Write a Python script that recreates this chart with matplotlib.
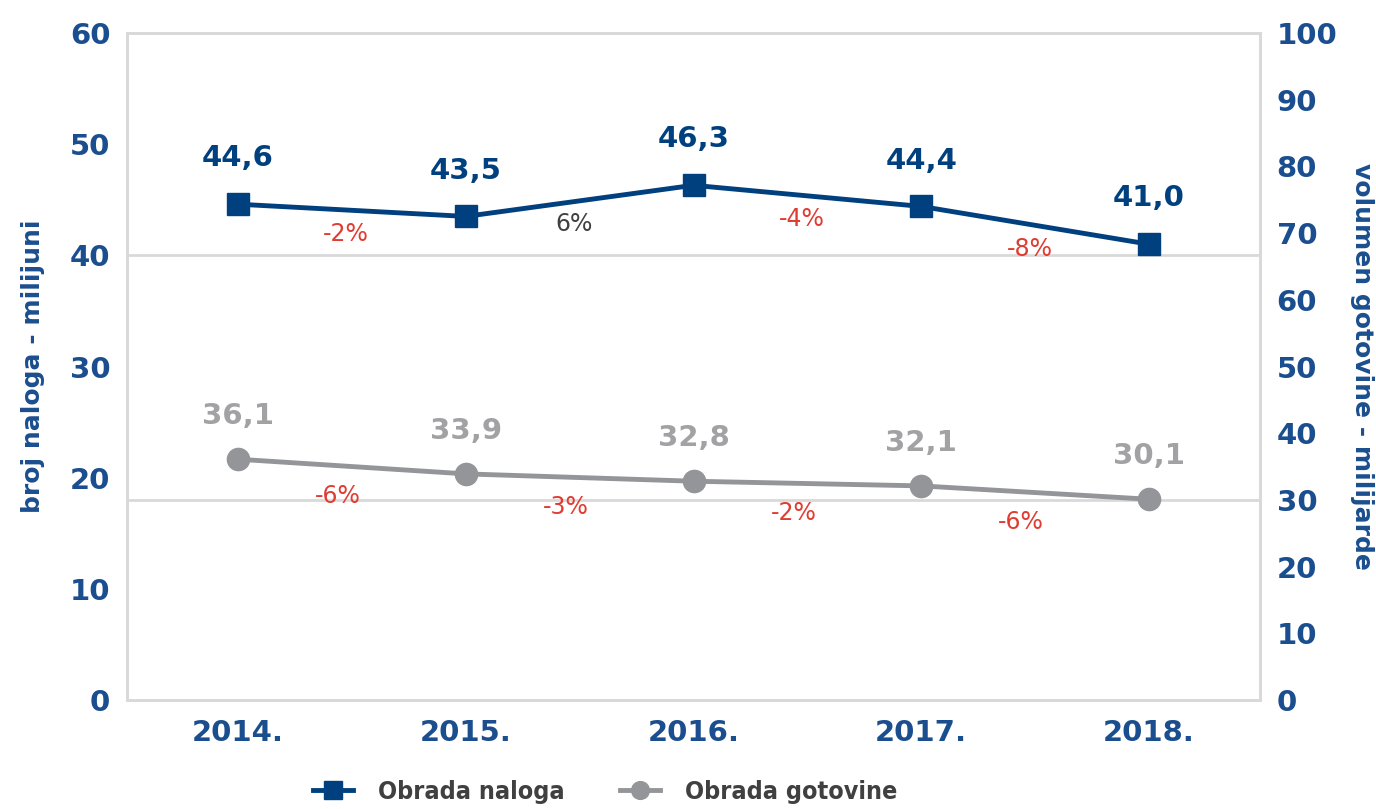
import matplotlib
matplotlib.use("Agg")
import matplotlib.pyplot as plt

years = ["2014.", "2015.", "2016.", "2017.", "2018."]
nalozi = [44.6, 43.5, 46.3, 44.4, 41.0]
gotovina = [36.1, 33.9, 32.8, 32.1, 30.1]
nalozi_lbl = ["44,6", "43,5", "46,3", "44,4", "41,0"]
gotovina_lbl = ["36,1", "33,9", "32,8", "32,1", "30,1"]
nalozi_chg = ["-2%", "6%", "-4%", "-8%"]
gotovina_chg = ["-6%", "-3%", "-2%", "-6%"]

blue = "#00407F"
tick_blue = "#1B4E8E"
grey = "#939598"
grey_txt = "#A2A2A5"
red = "#E03C31"
frame = "#D9D9D9"

main_font = "DejaVu Sans"

fig = plt.figure(figsize=(13.76, 8.09), dpi=100)
ax = fig.add_axes([127/1376, 1-700/809, (1260-127)/1376, (700-33)/809])
ax2 = ax.twinx()

x = list(range(len(years)))
ax.axhline(40, color=frame, lw=2, zorder=0)
ax2.axhline(30, color=frame, lw=2, zorder=0)

l1, = ax.plot(x, nalozi, color=blue, lw=3.5, marker="s", ms=16, zorder=3)
l2, = ax2.plot(x, gotovina, color=grey, lw=3.5, marker="o", ms=16, zorder=3)

ax.set_xlim(-0.487, 4.487)
ax.set_ylim(0, 60)
ax2.set_ylim(0, 100)
ax.set_yticks(range(0, 61, 10))
ax2.set_yticks(range(0, 101, 10))
ax.set_xticks(x)
ax.set_xticklabels(years)

for a in (ax, ax2):
    for s in a.spines.values():
        s.set_color(frame)
        s.set_linewidth(2)
    a.tick_params(length=0, labelsize=21, labelcolor=tick_blue)
    for t in a.get_yticklabels() + a.get_xticklabels():
        t.set_fontweight("bold")
        t.set_fontfamily(main_font)
ax.tick_params(axis="y", pad=12)
ax2.tick_params(axis="y", pad=12)
ax.tick_params(axis="x", pad=14)

ax.set_ylabel("broj naloga - milijuni", fontsize=18, fontweight="bold", color=tick_blue, labelpad=18)
ax2.set_ylabel("volumen gotovine - milijarde", fontsize=18, fontweight="bold", color=tick_blue,
               rotation=270, labelpad=26)

for i in x:
    ax.annotate(nalozi_lbl[i], (i, nalozi[i]), xytext=(0, 33), textcoords="offset points",
                ha="center", va="center", fontsize=21, fontweight="bold", color=blue)
    ax2.annotate(gotovina_lbl[i], (i, gotovina[i]), xytext=(0, 31), textcoords="offset points",
                 ha="center", va="center", fontsize=21, fontweight="bold", color=grey_txt)

for i in range(len(years) - 1):
    c = red if nalozi_chg[i].startswith("-") else "#404040"
    ax.annotate(nalozi_chg[i], (i + 0.5, (nalozi[i] + nalozi[i+1]) / 2), xytext=(-4, -17),
                textcoords="offset points", ha="center", va="center", fontsize=17, color=c)
    ax2.annotate(gotovina_chg[i], (i + 0.5, (gotovina[i] + gotovina[i+1]) / 2), xytext=(-10, -21),
                 textcoords="offset points", ha="center", va="center", fontsize=17, color=red)

fig.legend([l1, l2], ["Obrada naloga", "Obrada gotovine"], loc="center", bbox_to_anchor=(0.44, 1-792/809),
           ncol=2, frameon=False,
           prop={"family": main_font, "weight": "bold", "size": 18, "stretch": "condensed"},
           labelcolor="#404040", handlelength=1.6, handletextpad=1.0, columnspacing=2.2, markerscale=0.8)

fig.savefig("out.png", dpi=100)
